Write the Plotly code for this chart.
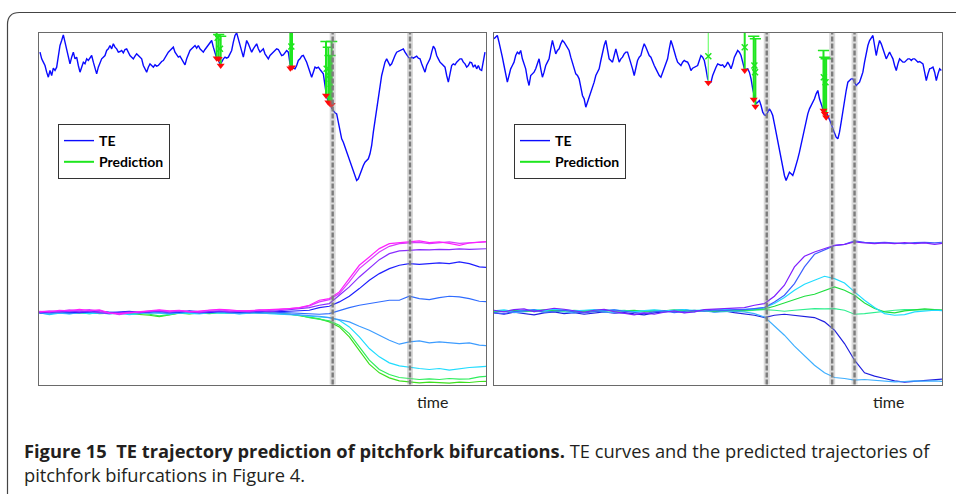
import plotly.graph_objects as go

# ---------------- data ----------------
# TE curves (sampled every 5 time steps)
te_left_t0, te_left_dt = 30, 5
te_left = [
    920, 900, 890, 880, 860, 845, 865, 850, 872, 865,
    875, 905, 940, 955, 972, 950, 930, 905, 885, 905,
    920, 900, 905, 880, 860, 875, 890, 885, 900, 895,
    905, 910, 890, 870, 855, 875, 890, 900, 905, 910,
    925, 930, 940, 930, 945, 935, 930, 920, 922, 925,
    918, 928, 930, 920, 910, 905, 900, 908, 915, 910,
    905, 900, 880, 870, 860, 875, 885, 880, 875, 882,
    878, 880, 888, 892, 895, 905, 910, 920, 925, 930,
    935, 920, 912, 905, 908, 900, 890, 882, 900, 915,
    925, 930, 935, 940, 932, 940, 930, 925, 920, 928,
    935, 940, 950, 955, 935, 915, 902, 895, 885, 890,
    900, 905, 902, 905, 915, 925, 950, 970, 978, 960,
    940, 920, 905, 930, 955, 945, 930, 920, 930, 940,
    945, 930, 920, 925, 930, 915, 905, 900, 910, 915,
    920, 925, 930, 928, 920, 910, 912, 920, 925, 920,
    885, 874, 872, 870, 880, 895, 900, 908, 910, 900,
    890, 875, 860, 845, 860, 875, 872, 875, 868, 860,
    855, 820, 785, 772, 765, 752, 745, 738, 735, 710,
    685, 660, 650, 635, 620, 605, 595, 580, 560, 545,
    535, 540, 555, 570, 580, 590, 595, 600, 615, 640,
    680, 715, 750, 790, 825, 850, 870, 890, 900, 890,
    880, 885, 900, 910, 920, 922, 925, 928, 930, 920,
    910, 905, 900, 905, 902, 905, 908, 902, 900, 885,
    875, 860, 880, 890, 900, 920, 938, 930, 910, 900,
    890, 885, 880, 875, 850, 830, 855, 880, 885, 882,
    890, 895, 900, 900, 890, 885, 875, 880, 890, 888,
    875, 882, 870, 880, 868, 865, 890, 920,
]
te_right_t0, te_right_dt = 15, 5
te_right = [
    960, 965, 970, 950, 930, 905, 880, 850, 830, 850,
    870, 880, 890, 910, 920, 915, 925, 900, 885, 870,
    840, 820, 850, 855, 860, 870, 885, 900, 870, 845,
    860, 880, 890, 900, 930, 955, 935, 915, 925, 930,
    945, 955, 950, 940, 932, 925, 905, 890, 870, 855,
    850, 840, 815, 790, 780, 755, 770, 785, 800, 810,
    830, 850, 860, 870, 895, 920, 940, 955, 930, 900,
    895, 890, 910, 930, 910, 890, 900, 905, 915, 920,
    920, 905, 890, 870, 850, 875, 895, 905, 910, 930,
    945, 935, 920, 910, 905, 890, 880, 870, 860, 850,
    845, 860, 870, 885, 900, 930, 955, 940, 920, 905,
    890, 885, 880, 890, 895, 892, 890, 880, 865, 872,
    875, 878, 880, 895, 910, 905, 895, 870, 840, 828,
    830, 850, 860, 875, 885, 882, 880, 882, 875, 880,
    890, 882, 870, 885, 905, 915, 925, 920, 910, 890,
    870, 868, 870, 860, 840, 810, 785, 765, 770, 775,
    760, 740, 732, 730, 740, 750, 742, 730, 705, 680,
    650, 620, 595, 570, 550, 535, 550, 560, 555, 550,
    565, 580, 600, 620, 645, 670, 695, 720, 735, 750,
    760, 770, 780, 795, 805, 780, 765, 750, 745, 740,
    730, 720, 705, 690, 675, 665, 660, 680, 710, 745,
    780, 805, 830, 835, 840, 840, 830, 820, 825, 830,
    845, 860, 890, 920, 940, 955, 965, 970, 940, 910,
    935, 955, 945, 930, 915, 900, 910, 920, 910, 900,
    880, 865, 885, 900, 895, 890, 890, 895, 900, 900,
    895, 900, 900, 895, 890, 892, 888, 885, 860, 835,
    855, 870, 872, 875, 860, 835, 855, 870, 865,
]

# Prediction bars: time, TE value at prediction, upper end of predicted range
pred_left_t = [560, 566, 572, 781, 786, 888, 895, 900, 905]
pred_left_lo = [902, 900, 880, 872, 875, 790, 770, 765, 762]
pred_left_hi = [1000, 973, 968, 1000, 1000, 952, 935, 910, 952]
pred_left_mark_t = [563, 570, 784, 890, 897, 902]
pred_left_mark_v = [963, 930, 937, 870, 850, 825]

pred_right_t = [657, 766, 793, 798, 1002, 1006, 1010]
pred_right_lo = [828, 865, 778, 757, 745, 735, 725]
pred_right_hi = [1000, 1000, 968, 960, 925, 905, 900]
pred_right_mark_t = [657, 766, 795, 797, 1003, 1008]
pred_right_mark_v = [908, 935, 880, 860, 845, 830]

# Bifurcation events (dashed lines)
events_left = [908, 1140]
events_right = [832, 1028, 1095]

# Trajectories (deviation from the stable state, sampled every 30 steps)
traj_left_t0, traj_right_t0, traj_dt = 28, 15, 30
traj_left = [
    [2, 0, 5, 3, 8, 4, 6, -3, -5, -2, 2, 4, 6, 3, 5, 0, 2, 4, 8, 6, 3, 4, 5, 6, 8, 10,
     13, 20, 35, 40, 60, 100, 140, 165, 190, 205, 207, 210, 213, 208, 210, 206, 200, 207, 210, 212],
    [0, 3, 2, 6, 4, 7, 2, -4, -8, -3, 0, 3, 5, 1, 4, 2, 0, 5, 6, 3, 4, 2, 6, 5, 7, 8,
     12, 18, 30, 37, 55, 90, 130, 155, 180, 197, 205, 207, 209, 205, 208, 210, 206, 208, 210, 211],
    [-2, 1, -1, 3, 0, 2, -2, -5, -3, 0, -3, 1, 2, -1, 3, 0, -2, 1, 3, 0, 2, 0, 3, 1, 4, 6,
     10, 13, 20, 25, 50, 75, 105, 130, 157, 175, 183, 185, 187, 186, 188, 187, 189, 188, 190, 190],
    [-3, -1, 2, 0, -2, 1, 3, -2, 0, 2, -1, 0, 4, 2, -1, 3, 0, -2, 2, 1, -1, 2, 0, 3, 1, 2,
     4, 5, 13, 17, 30, 47, 70, 95, 115, 130, 140, 145, 143, 145, 147, 145, 150, 145, 135, 133],
    [0, -2, 1, -3, 0, -1, 2, 0, -3, 1, -2, 0, 1, -3, 0, 2, -2, 0, 1, -1, 0, -2, 1, 0, -1, -3,
     -4, -5, -7, -5, 5, 13, 20, 25, 30, 35, 35, 47, 40, 37, 43, 47, 45, 40, 32, 30],
    [-4, -6, -2, -5, -3, 0, -4, -2, -6, -3, -1, -4, -2, -5, -3, -1, -4, -2, 0, -3, -5, -2, -4, -3, -5, -6,
     -8, -10, -13, -17, -23, -30, -43, -55, -70, -85, -97, -90, -87, -93, -90, -92, -95, -93, -100, -102],
    [-2, -8, -4, -6, -2, -5, -3, -6, -4, -8, -5, -2, -4, -7, -3, -5, -6, -2, -4, -3, -6, -4, -2, -5, -6, -8,
     -10, -13, -15, -17, -25, -45, -75, -110, -135, -153, -162, -167, -170, -173, -170, -175, -170, -167, -165, -163],
    [-1, -3, 0, -4, -2, -1, -5, -3, -2, -6, -4, -7, -12, -8, -3, -5, -2, -4, -1, -3, -2, 0, -3, -2, -4, -6,
     -10, -17, -23, -27, -40, -65, -105, -145, -173, -188, -197, -201, -203, -201, -203, -200, -202, -201, -195, -193],
    [0, -2, -4, -1, -3, -5, -2, -4, -3, -5, -6, -10, -14, -9, -4, -6, -3, -5, -2, -4, -1, -3, -2, -4, -5, -7,
     -11, -15, -21, -30, -45, -75, -117, -157, -183, -198, -207, -211, -213, -211, -212, -214, -211, -212, -209, -208],
]
traj_right = [
    [2, -3, 4, 6, -2, 3, 8, 5, 0, -4, 2, 5, -2, -8, -12, -6, -10, -4, 0, -6, -3, 4, 6, 8, 10,
     10, 17, 22, 44, 77, 132, 164, 177, 187, 197, 200, 207, 204, 202, 204, 202, 205, 202, 204, 200, 204],
    [-5, -8, -2, 0, 3, -4, -1, 2, -3, -6, -2, 0, 3, -1, -4, -8, -3, 0, -5, -2, 2, -1, 3, 1, 4,
     4, 7, 10, 27, 47, 82, 132, 170, 184, 196, 200, 210, 206, 204, 206, 204, 202, 205, 206, 204, 207],
    [0, 3, -2, 2, 4, 1, 5, 3, 0, 2, 4, 1, 3, 0, -2, 1, 3, 0, 2, 4, 1, 3, 2, 5, 3,
     4, 6, 10, 22, 40, 62, 80, 92, 104, 97, 84, 57, 32, 10, -8, -13, -11, -3, 0, 2, 0],
    [-2, 0, 2, -1, 1, 3, 0, 2, -2, 0, 1, 3, -1, 0, 2, -1, 1, 0, 3, 1, -1, 2, 0, 3, 1,
     2, 4, 6, 14, 24, 34, 44, 50, 62, 72, 62, 47, 24, 7, -3, -6, 0, 4, 6, 4, 2],
    [1, -1, 0, 2, -2, 0, 1, -1, 2, 0, -2, 1, 0, 2, -1, 0, 2, 1, -1, 0, 2, 0, 1, -1, 2,
     0, 2, 4, 2, -1, 2, 4, 7, 6, 7, 2, -10, -8, -4, 0, 2, 4, 4, 2, 4, 2],
    [-3, 0, -5, -2, 0, -4, -1, -3, -6, -2, 0, -3, -5, -1, -2, -4, 0, -3, -1, -5, -2, 0, -4, -2, -1,
     -3, -8, -18, -46, -73, -106, -133, -163, -186, -200, -203, -208, -206, -208, -210, -213, -212, -210, -211, -210, -212],
    [-6, -10, -4, -8, -12, -6, -3, -8, -5, -10, -6, -3, -7, -5, -9, -12, -6, -3, 0, 4, -2, 2, -3, 0, -5,
     -8, -13, -20, -13, -10, -13, -16, -20, -33, -58, -98, -148, -186, -196, -203, -210, -214, -212, -210, -206, -204],
]

# ---------------- styles ----------------
left_colors = ['#ff1fff', '#d83cff', '#8a2cff', '#1f1fff', '#2f6cff',
               '#3d9cff', '#1fdcff', '#2eee5c', '#3ee01e']
right_colors = ['#7f1fff', '#3f5fff', '#1fdcff', '#1fdf3f', '#2fef8f', '#3fafff', '#1f1fdf']
TE_COLOR = '#0a0aff'
GREEN = '#1fe61f'
RED = '#ff0a0a'
FONT = 'Lato'
CAPTION_FONT = 'Open Sans'

W, H = 956, 494
px = lambda v: v / W
py = lambda v: 1 - v / H

fig = go.Figure()


def add_panel(xa, ya, ya2, te, t0, dt, trajs, tt0, colors,
              p_t, p_lo, p_hi, m_t, m_v, legend, faint_first=False):
    # trajectories
    for vals, col in reversed(list(zip(trajs, colors))):
        fig.add_trace(go.Scatter(y=vals, x0=tt0, dx=traj_dt, mode='lines',
                                 line=dict(color=col, width=1.2),
                                 xaxis=xa, yaxis=ya2, showlegend=False, hoverinfo='skip'))
    # TE curve
    fig.add_trace(go.Scatter(y=te, x0=t0, dx=dt, mode='lines', name='TE',
                             line=dict(color=TE_COLOR, width=1.4),
                             xaxis=xa, yaxis=ya, legend=legend))
    # prediction bars
    bx, by = [], []
    fx, fy = [], []
    for i, (t, lo, hi) in enumerate(zip(p_t, p_lo, p_hi)):
        if faint_first and i == 0:
            fx += [t, t, None]
            fy += [lo, hi, None]
        else:
            bx += [t, t, None]
            by += [lo, hi, None]
    if fx:
        fig.add_trace(go.Scatter(x=fx, y=fy, mode='lines',
                                 line=dict(color='#7dff7d', width=1.3),
                                 xaxis=xa, yaxis=ya, showlegend=False, hoverinfo='skip'))
    fig.add_trace(go.Scatter(x=bx, y=by, mode='lines', name='Prediction',
                             line=dict(color=GREEN, width=2),
                             xaxis=xa, yaxis=ya, legend=legend))
    # caps of prediction ranges
    cx = [t for t, h in zip(p_t, p_hi) if h < 979]
    cy = [h for h in p_hi if h < 979]
    fig.add_trace(go.Scatter(x=cx, y=cy, mode='markers',
                             marker=dict(symbol='line-ew', size=8,
                                         line=dict(color=GREEN, width=1.5)),
                             xaxis=xa, yaxis=ya, showlegend=False, hoverinfo='skip'))
    fig.add_trace(go.Scatter(x=m_t, y=m_v, mode='markers',
                             marker=dict(symbol='x-thin', size=6,
                                         line=dict(color=GREEN, width=1.5)),
                             xaxis=xa, yaxis=ya, showlegend=False, hoverinfo='skip'))
    # red prediction points
    fig.add_trace(go.Scatter(x=p_t, y=p_lo, mode='markers',
                             marker=dict(symbol='triangle-down', size=7, color=RED),
                             xaxis=xa, yaxis=ya, showlegend=False, hoverinfo='skip'))


add_panel('x', 'y', 'y2', te_left, te_left_t0, te_left_dt, traj_left, traj_left_t0,
          left_colors, pred_left_t, pred_left_lo, pred_left_hi,
          pred_left_mark_t, pred_left_mark_v, 'legend')
add_panel('x2', 'y3', 'y4', te_right, te_right_t0, te_right_dt, traj_right, traj_right_t0,
          right_colors, pred_right_t, pred_right_lo, pred_right_hi,
          pred_right_mark_t, pred_right_mark_v, 'legend2', faint_first=True)

# dashed event lines
for xref, yref, evs in [('x', 'y domain', events_left), ('x2', 'y3 domain', events_right)]:
    for e in evs:
        fig.add_shape(type='line', xref=xref, yref=yref, x0=e, x1=e, y0=0, y1=1,
                      line=dict(color='rgba(150,150,150,0.35)', width=6), layer='above')
        fig.add_shape(type='line', xref=xref, yref=yref, x0=e, x1=e, y0=0, y1=1,
                      line=dict(color='#7c7c7c', width=2.4, dash='5px,2px'), layer='above')

# outer rounded frame
r = 12
frame = (f"M {px(7.5)},{py(520)} L {px(7.5)},{py(12.5 + r)} "
         f"Q {px(7.5)},{py(12.5)} {px(7.5 + r)},{py(12.5)} L {px(1000)},{py(12.5)}")
fig.add_shape(type='path', xref='paper', yref='paper', path=frame,
              line=dict(color='#444444', width=1.2))

ydom = [py(384.5), py(32.5)]
axis_common = dict(showgrid=False, zeroline=False, showticklabels=False, ticks='',
                   showline=True, mirror=True, linecolor='#6a6a6a', linewidth=1.2)
legend_common = dict(bgcolor='white', bordercolor='#333333', borderwidth=1,
                     font=dict(family=FONT, size=14, color='black', weight='bold'),
                     xanchor='left', yanchor='top', itemclick=False, tracegroupgap=0)

fig.update_layout(
    width=W, height=H,
    margin=dict(l=0, r=0, t=0, b=0),
    paper_bgcolor='white', plot_bgcolor='white',
    xaxis=dict(domain=[px(39), px(486)], range=[27, 1368], anchor='y', **axis_common),
    yaxis=dict(domain=ydom, range=[-77, 979], anchor='x', **axis_common),
    yaxis2=dict(overlaying='y', anchor='x', range=[-218, 839], visible=False),
    xaxis2=dict(domain=[px(494), px(942)], range=[15, 1357], anchor='y3', **axis_common),
    yaxis3=dict(domain=ydom, range=[-77, 979], anchor='x2', **axis_common),
    yaxis4=dict(overlaying='y3', anchor='x2', range=[-221, 836], visible=False),
    legend=dict(x=px(58), y=py(124), **legend_common),
    legend2=dict(x=px(514), y=py(124), **legend_common),
    annotations=[
        dict(text='time', x=px(432.5), y=py(401), xref='paper', yref='paper',
             showarrow=False, xanchor='center', yanchor='middle',
             font=dict(family=FONT, size=16, color='#231f20')),
        dict(text='time', x=px(888), y=py(401), xref='paper', yref='paper',
             showarrow=False, xanchor='center', yanchor='middle',
             font=dict(family=FONT, size=16, color='#231f20')),
        dict(text='<b>Figure 15\u00a0 TE trajectory prediction of pitchfork bifurcations.</b>'
                  ' TE curves and the predicted trajectories of<br>'
                  'pitchfork bifurcations in Figure 4.',
             x=px(22), y=py(436), xref='paper', yref='paper', showarrow=False,
             xanchor='left', yanchor='top', align='left',
             font=dict(family=CAPTION_FONT, size=18.3, color='#231f20')),
    ],
)

fig.write_html('out.html')
